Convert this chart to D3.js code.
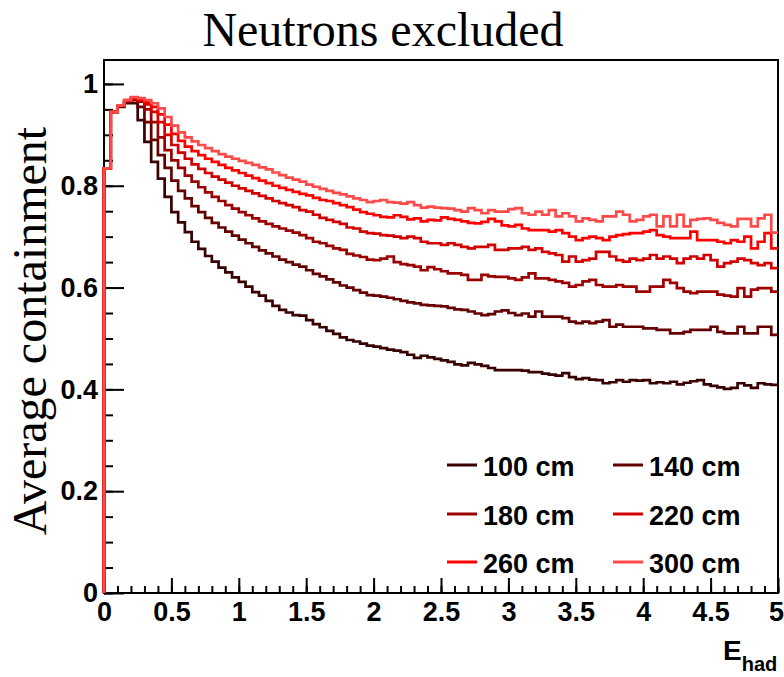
<!DOCTYPE html>
<html>
<head>
<meta charset="utf-8">
<script src="https://cdn.jsdelivr.net/npm/d3@7"></script>
<style>
  body { margin: 0; background: #fff; }
  .ticklab { font-family: "Liberation Sans", Arial, sans-serif; font-weight: bold; font-size: 27px; }
</style>
</head>
<body>
<svg id="chart" width="784" height="677"></svg>
<script>
// bin contents, 100 bins of 0.05 from 0 to 5
const s100 = [0.834,0.945,0.955,0.962,0.962, 0.929,0.886,0.847,0.814,0.778,
  0.748,0.728,0.709,0.690,0.676, 0.662,0.651,0.639,0.630,0.620,
  0.611,0.602,0.591,0.584,0.574, 0.564,0.556,0.551,0.546,0.545,
  0.536,0.528,0.522,0.515,0.509, 0.502,0.497,0.494,0.490,0.486,
  0.484,0.481,0.478,0.476,0.473, 0.468,0.462,0.466,0.463,0.460,
  0.457,0.454,0.449,0.447,0.452, 0.449,0.446,0.442,0.438,0.438,
  0.438,0.438,0.437,0.434,0.434, 0.431,0.429,0.427,0.432,0.424,
  0.420,0.422,0.419,0.418,0.412, 0.414,0.418,0.415,0.418,0.417,
  0.418,0.412,0.414,0.412,0.415, 0.410,0.413,0.416,0.418,0.410,
  0.407,0.404,0.401,0.403,0.412, 0.408,0.403,0.412,0.410,0.409]
const s140 = [0.834,0.945,0.956,0.965,0.968, 0.955,0.925,0.890,0.860,0.835,
  0.810,0.790,0.775,0.760,0.748, 0.737,0.727,0.718,0.710,0.702,
  0.694,0.687,0.680,0.673,0.667, 0.661,0.655,0.650,0.645,0.641,
  0.634,0.627,0.622,0.616,0.610, 0.604,0.600,0.595,0.590,0.585,
  0.584,0.582,0.580,0.577,0.574, 0.571,0.569,0.566,0.565,0.564,
  0.563,0.560,0.557,0.556,0.553, 0.549,0.546,0.548,0.553,0.555,
  0.550,0.546,0.549,0.543,0.553, 0.543,0.543,0.543,0.540,0.533,
  0.530,0.533,0.530,0.533,0.536, 0.523,0.527,0.523,0.523,0.523,
  0.520,0.520,0.517,0.517,0.510, 0.510,0.513,0.517,0.517,0.517,
  0.523,0.513,0.510,0.510,0.523, 0.510,0.510,0.523,0.523,0.507]
const s180 = [0.834,0.945,0.957,0.966,0.970, 0.965,0.950,0.925,0.895,0.870,
  0.850,0.835,0.820,0.808,0.797, 0.787,0.778,0.770,0.762,0.755,
  0.748,0.742,0.736,0.730,0.725, 0.720,0.716,0.712,0.708,0.703,
  0.697,0.690,0.687,0.682,0.677, 0.674,0.666,0.663,0.660,0.655,
  0.654,0.657,0.661,0.650,0.646, 0.644,0.641,0.634,0.640,0.636,
  0.632,0.628,0.628,0.625,0.615, 0.615,0.625,0.622,0.621,0.621,
  0.618,0.615,0.620,0.628,0.618, 0.618,0.615,0.612,0.609,0.602,
  0.605,0.612,0.615,0.605,0.602, 0.602,0.605,0.602,0.602,0.592,
  0.592,0.602,0.602,0.615,0.609, 0.599,0.592,0.589,0.592,0.592,
  0.592,0.586,0.584,0.582,0.599, 0.582,0.596,0.599,0.599,0.592]
const s220 = [0.834,0.945,0.958,0.967,0.972, 0.968,0.960,0.945,0.925,0.900,
  0.880,0.865,0.853,0.842,0.833, 0.825,0.818,0.812,0.806,0.800,
  0.795,0.790,0.785,0.780,0.775, 0.770,0.766,0.762,0.758,0.752,
  0.749,0.743,0.737,0.733,0.729, 0.725,0.718,0.716,0.710,0.707,
  0.706,0.703,0.702,0.700,0.697, 0.700,0.697,0.690,0.687,0.687,
  0.684,0.687,0.684,0.680,0.677, 0.680,0.680,0.684,0.674,0.674,
  0.677,0.677,0.680,0.674,0.677, 0.670,0.667,0.664,0.651,0.661,
  0.651,0.654,0.657,0.670,0.670, 0.661,0.654,0.651,0.657,0.654,
  0.657,0.664,0.657,0.661,0.657, 0.648,0.657,0.661,0.657,0.664,
  0.654,0.641,0.648,0.651,0.657, 0.654,0.648,0.644,0.648,0.638]
const s260 = [0.834,0.945,0.958,0.968,0.973, 0.970,0.965,0.955,0.940,0.920,
  0.902,0.888,0.877,0.868,0.860, 0.853,0.847,0.841,0.835,0.830,
  0.825,0.820,0.815,0.810,0.805, 0.800,0.796,0.792,0.788,0.784,
  0.781,0.776,0.772,0.770,0.766, 0.762,0.758,0.753,0.748,0.745,
  0.742,0.739,0.738,0.742,0.739, 0.734,0.736,0.730,0.733,0.732,
  0.738,0.735,0.733,0.730,0.727, 0.726,0.729,0.735,0.730,0.722,
  0.720,0.723,0.716,0.713,0.713, 0.713,0.710,0.713,0.707,0.700,
  0.693,0.697,0.700,0.697,0.693, 0.700,0.703,0.705,0.707,0.707,
  0.710,0.713,0.703,0.700,0.697, 0.697,0.697,0.710,0.693,0.693,
  0.693,0.690,0.687,0.693,0.690, 0.700,0.677,0.690,0.707,0.677]
const s300 = [0.834,0.945,0.958,0.968,0.974, 0.972,0.968,0.962,0.952,0.935,
  0.918,0.905,0.895,0.887,0.880, 0.874,0.868,0.862,0.857,0.853,
  0.849,0.845,0.841,0.836,0.832, 0.826,0.821,0.816,0.812,0.808,
  0.802,0.798,0.794,0.790,0.786, 0.783,0.779,0.775,0.772,0.768,
  0.770,0.772,0.768,0.767,0.765, 0.768,0.762,0.757,0.759,0.757,
  0.756,0.755,0.752,0.749,0.756, 0.752,0.746,0.752,0.749,0.749,
  0.754,0.756,0.746,0.743,0.749, 0.743,0.752,0.740,0.746,0.740,
  0.730,0.736,0.733,0.730,0.740, 0.740,0.749,0.743,0.730,0.733,
  0.740,0.743,0.720,0.740,0.720, 0.743,0.720,0.733,0.735,0.736,
  0.733,0.727,0.723,0.720,0.735, 0.735,0.720,0.736,0.743,0.708]

const labels = ['100 cm', '140 cm', '180 cm', '220 cm', '260 cm', '300 cm']
const colors = ['#380000', '#660000', '#9c0000', '#d20000', '#ff0000', '#ff4a4a']
const xTicks = [0, 0.5, 1, 1.5, 2, 2.5, 3, 3.5, 4, 4.5, 5]
const yTicks = [0, 0.2, 0.4, 0.6, 0.8, 1]
const binWidth = 0.05

let pad_left = 104
let pad_right = 778
let pad_top = 60
let pad_bottom = 593

let series = [s100, s140, s180, s220, s260, s300].map((values, i) => ({label: labels[i], color: colors[i], values: values}))

let svg = d3.select('#chart')

let xScale = d3.scaleLinear().domain([0, 5]).range([pad_left, pad_right])
let yScale = d3.scaleLinear().domain([0, 1.047]).range([pad_bottom, pad_top])

// frame
svg.append('rect').attr('x', pad_left).attr('y', pad_top)
   .attr('width', pad_right - pad_left).attr('height', pad_bottom - pad_top)
   .attr('fill', 'none').attr('stroke', 'black').attr('stroke-width', 2)

// x axis: minor ticks every 0.1, labelled ticks every 0.5 (pointing inward)
let xMinor = d3.axisBottom(xScale).tickValues(d3.range(0, 5.001, 0.1)).tickSize(-7).tickFormat('')
let xMajor = d3.axisBottom(xScale).tickValues(xTicks).tickSize(-15).tickPadding(9).tickFormat(d => String(d))
svg.append('g').attr('transform', 'translate(0,' + pad_bottom + ')').call(xMinor)
let xMajorG = svg.append('g').attr('class', 'ticklab').attr('transform', 'translate(0,' + pad_bottom + ')').call(xMajor)
// last label sits right on the window edge, pull it in a little
xMajorG.selectAll('text').filter(d => d === 5).attr('dx', -2)

let yMinor = d3.axisLeft(yScale).tickValues(d3.range(0, 1.041, 0.05)).tickSize(-9).tickFormat('')
let yMajor = d3.axisLeft(yScale).tickValues(yTicks).tickSize(-20).tickPadding(6).tickFormat(d => String(d))
svg.append('g').attr('transform', 'translate(' + pad_left + ',0)').call(yMinor)
svg.append('g').attr('class', 'ticklab').attr('transform', 'translate(' + pad_left + ',0)').call(yMajor)

svg.selectAll('.domain').remove()
svg.selectAll('.tick line').attr('stroke', 'black').attr('stroke-width', 2)
svg.selectAll('.ticklab text').attr('font-family', null).attr('font-size', null).attr('fill', 'black')

// histograms as step lines
function toPoints(values){
    let pts = [{e: 0, v: 0}]
    values.forEach((v, i) => pts.push({e: i * binWidth, v: v}))
    pts.push({e: values.length * binWidth, v: values[values.length - 1]})
    return pts
}
let line = d3.line().x(d => xScale(d.e)).y(d => yScale(d.v)).curve(d3.curveStepAfter)

svg.append('g').selectAll('path').data(series).join('path')
   .attr('fill', 'none').attr('stroke', d => d.color).attr('stroke-width', 2.7)
   .attr('d', d => line(toPoints(d.values)))

// legend, two columns
let legCols = [447, 613]
let legRows = [465, 514, 562]
let legend = svg.append('g').selectAll('g').data(series).join('g')
   .attr('transform', (d, i) => 'translate(' + legCols[i % 2] + ',' + legRows[Math.floor(i / 2)] + ')')
legend.append('line').attr('x1', 0).attr('x2', 30).attr('y1', 0).attr('y2', 0)
   .attr('stroke', d => d.color).attr('stroke-width', 3)
legend.append('text').text(d => d.label).attr('x', 36).attr('y', 11)
   .attr('class', 'ticklab').attr('font-size', 26)

// titles
svg.append('text').text('Neutrons excluded').attr('x', 383).attr('y', 46)
   .attr('text-anchor', 'middle').attr('font-family', '"Liberation Serif", "Times New Roman", serif').attr('font-size', 48)
svg.append('text').text('Average containment').attr('transform', 'translate(46,331) rotate(-90)')
   .attr('text-anchor', 'middle').attr('font-family', '"Liberation Serif", "Times New Roman", serif').attr('font-size', 48)

let xTitle = svg.append('text').attr('x', 723).attr('y', 660)
   .attr('font-family', '"Liberation Sans", Arial, sans-serif').attr('font-weight', 'bold')
xTitle.append('tspan').text('E').attr('font-size', 28)
xTitle.append('tspan').text('had').attr('font-size', 20).attr('dy', 11)
</script>
</body>
</html>
